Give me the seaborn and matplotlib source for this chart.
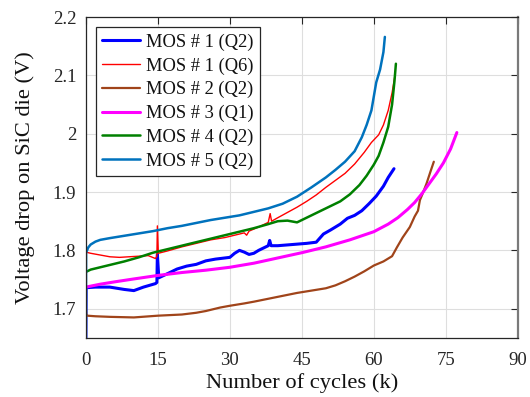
import matplotlib
matplotlib.use("Agg")
import matplotlib.pyplot as plt
import seaborn as sns
import pandas as pd

# ---- data ----
labels = ["MOS # 1 (Q2)", "MOS # 1 (Q6)", "MOS # 2 (Q2)", "MOS # 3 (Q1)", "MOS # 4 (Q2)", "MOS # 5 (Q2)"]
colors = ["#0000FF", "#FF0000", "#A0441A", "#FF00FF", "#008000", "#0072BD"]
widths = [2.2, 1.0, 1.6, 2.2, 1.8, 1.8]

mos1_q2_x = [0, 0.05, 2, 5, 8, 10, 12, 14.5, 14.8, 14.9, 15.2, 17, 19, 21, 23, 25, 27, 29, 30, 31, 32, 33, 34, 35, 36, 38, 38.3, 38.6, 40, 43, 46, 48, 49.5, 51, 53, 54.5, 56, 57.5, 59, 60.5, 62, 63, 64.2]
mos1_q2_y = [1.65, 1.736, 1.737, 1.737, 1.733, 1.731, 1.737, 1.743, 1.745, 1.793, 1.753, 1.760, 1.768, 1.773, 1.776, 1.782, 1.785, 1.787, 1.788, 1.795, 1.800, 1.797, 1.793, 1.795, 1.800, 1.808, 1.817, 1.808, 1.808, 1.810, 1.812, 1.814, 1.828, 1.835, 1.845, 1.855, 1.860, 1.868, 1.880, 1.893, 1.910, 1.925, 1.940]

mos1_q6_x = [0, 1, 3, 5, 7, 9, 11, 13, 14.5, 14.8, 14.9, 15.1, 17, 20, 23, 26, 29, 31, 33, 33.5, 34, 36, 38, 38.4, 38.7, 40, 42, 44, 46, 48, 50, 52, 54, 56, 58, 59.5, 61, 62, 63, 63.8, 64.4]
mos1_q6_y = [1.797, 1.795, 1.792, 1.789, 1.788, 1.789, 1.790, 1.791, 1.786, 1.790, 1.842, 1.795, 1.799, 1.806, 1.812, 1.818, 1.822, 1.826, 1.830, 1.826, 1.833, 1.840, 1.848, 1.863, 1.850, 1.856, 1.865, 1.874, 1.884, 1.895, 1.908, 1.920, 1.932, 1.948, 1.968, 1.985, 1.998, 2.015, 2.040, 2.070, 2.100]

mos2_q2_x = [0, 0.1, 0.3, 2, 5, 10, 15, 20, 23, 25, 28, 30, 33, 35, 38, 41, 44, 47, 50, 52, 54, 56, 58, 60, 62, 63.8, 64.8, 66, 67.5, 68.5, 69.2, 69.6, 70.3, 71, 71.8, 72.5]
mos2_q2_y = [1.700, 1.688, 1.688, 1.687, 1.686, 1.685, 1.688, 1.690, 1.693, 1.696, 1.702, 1.705, 1.709, 1.712, 1.717, 1.722, 1.727, 1.731, 1.735, 1.740, 1.747, 1.755, 1.764, 1.774, 1.781, 1.790, 1.805, 1.822, 1.840, 1.858, 1.868, 1.886, 1.900, 1.915, 1.935, 1.952]

mos3_q1_x = [0, 3, 6, 10, 15, 20, 25, 30, 35, 40, 45, 50, 55, 60, 63, 65, 67, 68.5, 70, 71.5, 73, 74.5, 76, 77.3]
mos3_q1_y = [1.737, 1.742, 1.746, 1.751, 1.757, 1.762, 1.766, 1.771, 1.778, 1.787, 1.796, 1.806, 1.818, 1.832, 1.845, 1.856, 1.870, 1.882, 1.897, 1.914, 1.931, 1.950, 1.974, 2.002]

mos4_q2_x = [0, 1, 3, 5, 8, 11, 14, 17, 20, 23, 26, 29, 32, 35, 38, 40, 42, 44, 45, 47, 49, 51, 53, 55, 57, 58.5, 60, 61, 62, 63, 63.8, 64.3, 64.6]
mos4_q2_y = [1.763, 1.767, 1.771, 1.775, 1.781, 1.788, 1.796, 1.802, 1.808, 1.814, 1.820, 1.826, 1.832, 1.838, 1.845, 1.850, 1.851, 1.848, 1.852, 1.860, 1.868, 1.876, 1.884, 1.896, 1.912, 1.928, 1.947, 1.962, 1.985, 2.012, 2.050, 2.090, 2.120]

mos5_q2_x = [0, 0.05, 0.5, 1, 2, 3, 5, 8, 11, 14, 17, 20, 23, 26, 29, 32, 35, 38, 41, 44, 47, 50, 52, 54, 56, 57.5, 58.5, 59.5, 60.5, 61.3, 62, 62.3]
mos5_q2_y = [1.65, 1.796, 1.805, 1.810, 1.815, 1.818, 1.821, 1.825, 1.829, 1.833, 1.838, 1.842, 1.847, 1.852, 1.856, 1.860, 1.866, 1.872, 1.880, 1.892, 1.908, 1.925, 1.938, 1.952, 1.970, 1.994, 2.015, 2.040, 2.088, 2.110, 2.140, 2.166]

series_x = [mos1_q2_x, mos1_q6_x, mos2_q2_x, mos3_q1_x, mos4_q2_x, mos5_q2_x]
series_y = [mos1_q2_y, mos1_q6_y, mos2_q2_y, mos3_q1_y, mos4_q2_y, mos5_q2_y]

x_ticks = [0, 15, 30, 45, 60, 75, 90]
y_ticks = [1.7, 1.8, 1.9, 2.0, 2.1, 2.2]
y_ticklabels = ["1.7", "1.8", "1.9", "2", "2.1", "2.2"]

# ---- plot ----
sns.set_theme(style="white")
plt.rcParams["font.family"] = ["Liberation Serif", "DejaVu Serif"]

fig = plt.figure(figsize=(5.30, 3.97), dpi=100)
ax = fig.add_axes([0.162, 0.149, 0.815, 0.808])

for xs, ys, lab, col, lw in zip(series_x, series_y, labels, colors, widths):
    df = pd.DataFrame({"x": xs, "y": ys})
    sns.lineplot(data=df, x="x", y="y", ax=ax, color=col, linewidth=lw,
                 label=lab, sort=False, estimator=None)

ax.set_xlim(0, 90)
ax.set_ylim(1.65, 2.2)
ax.set_xticks(x_ticks)
ax.set_yticks(y_ticks)
ax.set_yticklabels(y_ticklabels)
ax.grid(True, color="#dedede", linewidth=0.8)
ax.set_axisbelow(True)
ax.tick_params(direction="in", top=True, right=True, length=5, width=0.8,
               color="#262626", labelsize=13.5, labelcolor="#262626")
ax.tick_params(axis="x", pad=10)
ax.tick_params(axis="y", pad=7)
for s in ax.spines.values():
    s.set_color("#262626")
    s.set_linewidth(0.9)
ax.spines["right"].set_color("#7a7a7a")
ax.spines["right"].set_linewidth(1.6)

ax.set_xlabel("Number of cycles (k)", fontsize=16.2, color="#111111", labelpad=3)
ax.set_ylabel("Voltage drop on SiC die (V)", fontsize=16.2, color="#111111", labelpad=13)

leg = ax.legend(loc="upper left", bbox_to_anchor=(0.023, 0.969), fontsize=13.3,
                frameon=True, fancybox=False, framealpha=1, edgecolor="#262626",
                borderpad=0.35, labelspacing=0.35, handlelength=2.05,
                handletextpad=0.3, borderaxespad=0.0)
leg.get_frame().set_linewidth(0.9)
for t in leg.get_texts():
    t.set_color("#111111")

fig.savefig("out.png", dpi=100)
